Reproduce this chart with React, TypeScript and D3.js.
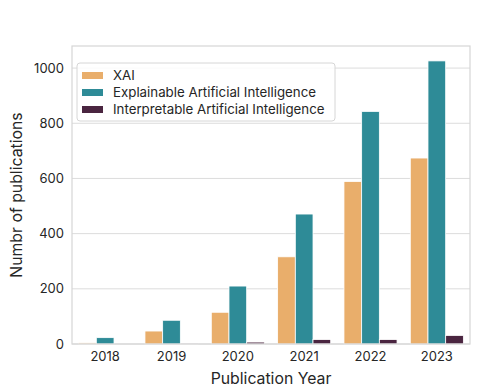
import React from 'react';
import * as d3 from 'd3';

const years = ['2018', '2019', '2020', '2021', '2022', '2023'];
const seriesNames = ['XAI', 'Explainable Artificial Intelligence', 'Interpretable Artificial Intelligence'];
const xaiCounts = [4, 47, 115, 316, 589, 674];
const explainableCounts = [23, 86, 210, 471, 843, 1026];
const interpretableCounts = [0, 1, 7, 16, 16, 31];
const yTicks = [0, 200, 400, 600, 800, 1000];
const colors = ['#e9ae6b', '#2e8b97', '#4a2540'];

const W = 498;
const H = 387;
const margin = { top: 46, right: 28, bottom: 43, left: 72 };
const font = 'Inter, "DejaVu Sans", sans-serif';

export default function App() {
    const innerW = W - margin.left - margin.right;
    const innerH = H - margin.top - margin.bottom;
    const series = [xaiCounts, explainableCounts, interpretableCounts];

    const x = d3.scaleBand().domain(years).range([0, innerW]).padding(0);
    const inner = d3.scaleBand().domain(seriesNames).range([x.bandwidth() * 0.1, x.bandwidth() * 0.9]);
    const y = d3.scaleLinear().domain([0, 1080]).range([innerH, 0]);

    return (
        <div style={{ position: 'absolute', left: 0, top: 0 }}>
            <svg width={W} height={H} style={{ display: 'block', fontFamily: font }}>
                <rect width={W} height={H} fill="#fff" />
                <g transform={`translate(${margin.left},${margin.top})`}>
                    {/* grid */}
                    {yTicks.map(t => (
                        <line key={t} x1={0} x2={innerW} y1={y(t)} y2={y(t)} stroke="#dcdcdc" strokeWidth={1} />
                    ))}
                    {/* bars */}
                    {series.map((vals, si) =>
                        vals.map((v, i) => (
                            <rect
                                key={si + '-' + i}
                                x={x(years[i])! + inner(seriesNames[si])!}
                                y={y(v)}
                                width={inner.bandwidth()}
                                height={innerH - y(v)}
                                fill={colors[si]}
                                stroke="#fff"
                                strokeWidth={0.8}
                            />
                        ))
                    )}
                    {/* frame */}
                    <rect x={0} y={0} width={innerW} height={innerH} fill="none" stroke="#d6d6d6" strokeWidth={1.2} />
                    {/* y ticks */}
                    {yTicks.map(t => (
                        <text key={t} x={-8} y={y(t)} dy="0.35em" textAnchor="end" fontSize={13} fill="#262626">{t}</text>
                    ))}
                    {/* x ticks */}
                    {years.map(yr => (
                        <text key={yr} x={x(yr)! + x.bandwidth() / 2} y={innerH + 17} textAnchor="middle" fontSize={13} fill="#262626">{yr}</text>
                    ))}
                    {/* legend */}
                    <g transform="translate(5,17)">
                        <rect x={0} y={0} width={258} height={58} rx={3} fill="#fff" fillOpacity={0.85} stroke="#d6d6d6" />
                        {seriesNames.map((n, i) => (
                            <g key={n} transform={`translate(0,${12 + i * 17})`}>
                                <rect x={5} y={-3} width={21} height={7} fill={colors[i]} />
                                <text x={36} y={0} dy="0.35em" fontSize={13.3} fill="#262626">{n}</text>
                            </g>
                        ))}
                    </g>
                </g>
                <text x={margin.left + innerW / 2} y={H - 3} textAnchor="middle" fontSize={15.8} fill="#262626">Publication Year</text>
                <text transform={`translate(22,${margin.top + innerH / 2}) rotate(-90)`} textAnchor="middle" fontSize={15.8} fill="#262626">Numbr of publications</text>
            </svg>
        </div>
    );
}
